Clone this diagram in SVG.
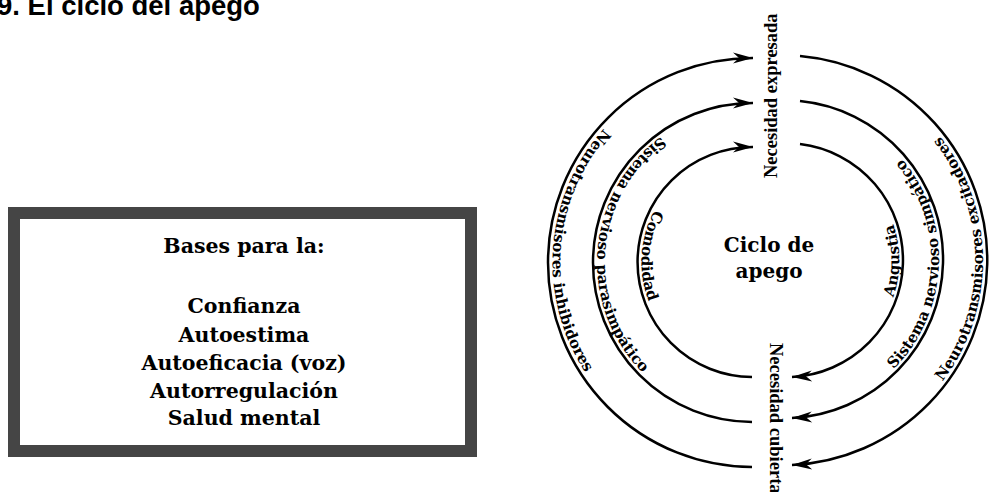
<svg xmlns="http://www.w3.org/2000/svg" width="992" height="492" viewBox="0 0 992 492">
  <style>
    .title { font-family: "Liberation Sans", Arial, sans-serif; font-weight: bold; font-size: 27.5px; fill: #000; }
    .box { font-family: "DejaVu Serif", "Liberation Serif", serif; font-weight: bold; font-size: 20.5px; fill: #000; text-anchor: middle; }
    .center { font-family: "DejaVu Serif", "Liberation Serif", serif; font-weight: bold; font-size: 20px; fill: #000; text-anchor: middle; }
    .arc { fill: none; stroke: #000; stroke-width: 2.5; }
    .arclbl { font-family: "DejaVu Serif", "Liberation Serif", serif; font-weight: bold; font-size: 15px; fill: #000; }
    .vert { font-family: "Liberation Serif", "Times New Roman", serif; font-weight: bold; font-size: 18.5px; fill: #000; }
  </style>
  <defs>
    <marker id="arrow" markerUnits="userSpaceOnUse" markerWidth="24" markerHeight="14" viewBox="0 -7 22 14" refX="20" refY="0" orient="auto">
      <path d="M0,-5.5 L20,0 L0,5.5 L6,0 Z" fill="#000"/>
    </marker>
    <path id="tp-lo" d="M 603.9 128.7 A 200 200 0 0 0 599.3 391.1"/>
    <path id="tp-lm" d="M 661.1 136.7 A 155.5 155.5 0 0 0 663.3 389.9"/>
    <path id="tp-li" d="M 654.5 209.9 A 111 111 0 0 0 656.4 317.5"/>
    <path id="tp-ro" d="M 942.5 381.5 A 201 201 0 0 0 924.1 118.4"/>
    <path id="tp-rm" d="M 893.6 369.1 A 155 155 0 0 0 861.5 125.3"/>
    <path id="tp-ri" d="M 893.1 297.3 A 113 113 0 0 0 872.9 187.9"/>
  </defs>

  <rect x="0" y="0" width="992" height="492" fill="#ffffff"/>

  <g id="title">
    <text class="title" x="-3" y="15">9. El ciclo del apego</text>
  </g>

  <g id="node-bases">
    <rect x="14" y="213" width="457" height="238" fill="#ffffff" stroke="#454545" stroke-width="12"/>
    <text class="box" x="244" y="253">Bases para la:</text>
    <text class="box" x="244" y="313">Confianza</text>
    <text class="box" x="244" y="342">Autoestima</text>
    <text class="box" x="244" y="370">Autoeficacia (voz)</text>
    <text class="box" x="244" y="398">Autorregulación</text>
    <text class="box" x="244" y="425">Salud mental</text>
  </g>

  <g id="node-ciclo">
    <text class="center" x="769" y="252">Ciclo de</text>
    <text class="center" x="769" y="278">apego</text>
  </g>

  <g id="node-expresada">
    <text class="vert" transform="translate(777 178) rotate(-90)" x="0" y="0">Necesidad expresada</text>
  </g>

  <g id="node-cubierta">
    <text class="vert" transform="translate(770 343) rotate(90)" x="0" y="0">Necesidad cubierta</text>
  </g>

  <g id="connectors">
    <path class="arc" d="M 752 467 A 204.5 204.5 0 0 1 753 58" marker-end="url(#arrow)"/>
    <path class="arc" d="M 752 422 A 159.5 159.5 0 0 1 753 103" marker-end="url(#arrow)"/>
    <path class="arc" d="M 752 377 A 115 115 0 0 1 753 147" marker-end="url(#arrow)"/>
    <path class="arc" d="M 800 56 A 205 205 0 0 1 792 465" marker-end="url(#arrow)"/>
    <path class="arc" d="M 800 101 A 159 159 0 0 1 792 418" marker-end="url(#arrow)"/>
    <path class="arc" d="M 800 144 A 117 117 0 0 1 792 377" marker-end="url(#arrow)"/>
  </g>

  <g id="connector-labels">
    <text class="arclbl"><textPath href="#tp-lo">Neurotransmisores inhibidores</textPath></text>
    <text class="arclbl"><textPath href="#tp-lm">Sistema nervioso parasimpático</textPath></text>
    <text class="arclbl"><textPath href="#tp-li">Comodidad</textPath></text>
    <text class="arclbl"><textPath href="#tp-ro">Neurotransmisores excitadores</textPath></text>
    <text class="arclbl"><textPath href="#tp-rm">Sistema nervioso simpático</textPath></text>
    <text class="arclbl"><textPath href="#tp-ri">Angustia</textPath></text>
  </g>
</svg>
